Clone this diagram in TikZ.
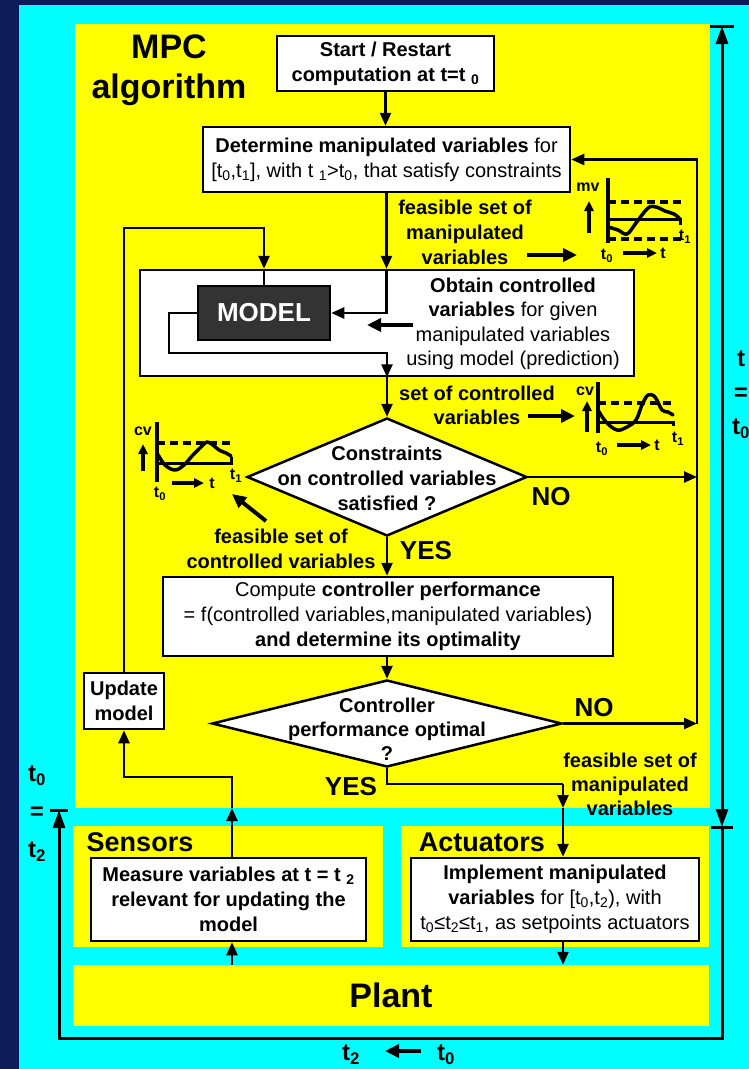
\documentclass[tikz,border=0pt]{standalone}
\usepackage{fontspec}
\setmainfont{Liberation Sans}
\usetikzlibrary{arrows.meta,shapes.geometric}

\definecolor{navy}{RGB}{12,28,90}
\definecolor{cyanbg}{RGB}{0,255,255}
\definecolor{yel}{RGB}{255,255,0}
\definecolor{modelgray}{RGB}{51,51,51}

\tikzset{
  box/.style={draw=black, fill=white, line width=2.5pt, inner sep=0pt, align=center,
    font=\fontsize{20}{25}\selectfont},
  boldbox/.style={box, font=\fontsize{20}{25}\selectfont\bfseries},
  decision/.style={draw=black, fill=white, line width=2.5pt, shape=diamond, inner sep=0pt},
  flow/.style={line width=2.5pt, -{Triangle[length=13pt,width=11pt]}},
  wire/.style={line width=2.5pt},
  lbl/.style={font=\fontsize{20}{25}\selectfont\bfseries, align=center, inner sep=0pt},
  answer/.style={font=\fontsize{26}{30}\selectfont\bfseries, inner sep=0pt},
  fatarrow/.style={line width=4pt, -{Triangle[length=14pt,width=13pt]}},
  timeline/.style={line width=3pt},
  timetip/.style={timeline, -{Triangle[length=18pt,width=12pt]}},
  tlabel/.style={font=\fontsize{24}{36}\selectfont\bfseries, align=center, inner sep=0pt},
  gaxis/.style={line width=4pt},
  glimit/.style={line width=3.5pt, dash pattern=on 8pt off 5pt},
  gbase/.style={line width=3pt},
  gcurve/.style={line width=3.5pt, line join=round, line cap=round},
  garrow/.style={line width=3.5pt, -{Triangle[length=10pt,width=9pt]}},
  glabel/.style={font=\fontsize{16}{18}\selectfont\bfseries, inner sep=0pt},
}

\begin{document}
\begin{tikzpicture}[x=1pt,y=-1pt]
\path[use as bounding box] (0,0) rectangle (749,1069);

% background panels
\fill[navy] (0,0) rectangle (749,1069);
\fill[cyanbg] (19,5) rectangle (749,1069);
\fill[yel] (75,24) rectangle (710,808);
\fill[yel] (73,826) rectangle (383,947);
\fill[yel] (401,826) rectangle (709,947);
\node[fill=yel, minimum width=636pt, minimum height=61pt, inner sep=0pt,
  font=\fontsize{34}{40}\selectfont\bfseries] (plant) at (391,995.5) {Plant};

% titles
\node[font=\fontsize{34}{40}\selectfont\bfseries, align=center, inner sep=0pt] (title) at (169,70) {MPC\\algorithm};
\node[font=\fontsize{27}{30}\selectfont\bfseries, inner sep=0pt] (sensors) at (140,842) {Sensors};
\node[font=\fontsize{27}{30}\selectfont\bfseries, inner sep=0pt] (actuators) at (482,842) {Actuators};

% algorithm steps
\node[boldbox, minimum width=217pt, minimum height=55pt] (start) at (385.5,63.5)
  {Start / Restart\\computation at t=t \textsubscript{0}};
\node[box, minimum width=367pt, minimum height=65pt] (determine) at (386.5,159.5)
  {\textbf{Determine manipulated variables} for\\{[}t\textsubscript{0},t\textsubscript{1}], with t \textsubscript{1}>t\textsubscript{0}, that satisfy constraints};
\node[box, minimum width=494pt, minimum height=106pt] (obtain) at (387,323) {};
\node[font=\fontsize{20}{24.5}\selectfont, align=center, inner sep=0pt] (obtaintext) at (513,324)
  {\textbf{Obtain controlled}\\\textbf{variables} for given\\manipulated variables\\using model (prediction)};
\node[draw=black, fill=modelgray, line width=2.5pt, minimum width=132pt, minimum height=54pt, inner sep=0pt,
  text=white, font=\fontsize{26}{30}\selectfont\bfseries] (model) at (264,313) {MODEL};

\node[decision, minimum width=280pt, minimum height=118pt] (cons) at (387,477) {};
\node[lbl] (constext) at (387,478) {Constraints\\on controlled variables\\satisfied ?};

\node[box, minimum width=450pt, minimum height=79pt] (compute) at (388,616.5)
  {Compute \textbf{controller performance}\\= f(controlled variables,manipulated variables)\\\textbf{and determine its optimality}};

\node[decision, minimum width=350pt, minimum height=87pt] (ctrl) at (387,723.5) {};
\node[lbl, font=\fontsize{20}{24}\selectfont\bfseries] (ctrltext) at (387,729) {Controller\\performance optimal\\?};

\node[boldbox, minimum width=80pt, minimum height=56pt] (update) at (124,701) {Update\\model};
\node[boldbox, minimum width=275pt, minimum height=83pt] (measure) at (228.5,899.5)
  {Measure variables at t = t \textsubscript{2}\\relevant for updating the\\model};
\node[box, minimum width=288pt, minimum height=83pt] (implement) at (555,899.5)
  {\textbf{Implement manipulated}\\\textbf{variables} for {[}t\textsubscript{0},t\textsubscript{2}), with\\t\textsubscript{0}≤t\textsubscript{2}≤t\textsubscript{1}, as setpoints actuators};

% helper coordinates
\coordinate (feedtop) at (0,228);
\coordinate (mloop) at (169,353);
\coordinate (rail) at (697,0);
\coordinate (edge) at (0,808);
\coordinate (ax) at (563,784);
\coordinate (sx) at (232,777);

% connectors
\draw[flow] (start.south) -- (start.south |- determine.north);
\draw[flow] (determine.south) -- (determine.south |- obtain.north);
\draw[flow] (determine.south |- obtain.north) |- (model.east);
\draw[flow] (update.north) |- (model.north |- feedtop) -- (model.north |- obtain.north);
\draw[wire] (model.north |- obtain.north) -- (model.north);
\draw[flow] (model.west) -| (mloop) -| (cons.north |- obtain.south);
\draw[flow] (cons.north |- obtain.south) -- (cons.north);
\draw[flow] (cons.south) -- (cons.south |- compute.north);
\draw[flow] (cons.east) -- (cons.east -| rail);
\draw[flow] (ctrl.north |- compute.south) -- (ctrl.north);
\draw[flow] (ctrl.east) -- (ctrl.east -| rail);
\draw[flow] (ctrl.east -| rail) |- (determine.east);
\draw[wire] (ctrl.south) |- (ax);
\draw[flow] (ax) -- (ax |- edge);
\draw[flow] (ax |- edge) -- (ax |- implement.north);
\draw[flow] (ax |- implement.south) -- (ax |- plant.north);
\draw[flow] (sx |- plant.north) -- (sx |- measure.south);
\draw[flow] (sx |- measure.north) -- (sx |- edge);
\draw[flow] (sx |- edge) -- (sx) -| (update.south);

% branch labels
\node[answer] (yes1) at (426,551) {YES};
\node[answer] (no1) at (551,497) {NO};
\node[answer] (no2) at (594,708) {NO};
\node[answer] (yes2) at (351,787) {YES};
\node[lbl] (feasmv) at (465,232) {feasible set of\\manipulated\\variables};
\node[lbl, font=\fontsize{20}{24}\selectfont\bfseries] (setcv) at (477,405) {set of controlled\\variables};
\node[lbl] (feascv) at (281,549) {feasible set of\\controlled variables};
\node[lbl, font=\fontsize{20}{24}\selectfont\bfseries] (feasmv2) at (630,784) {feasible set of\\manipulated\\variables};

% pointer arrows
\coordinate (pa1) at (527,255); \coordinate (pa2) at (577,255);
\draw[fatarrow] (pa1) -- (pa2);
\coordinate (pb1) at (528,416); \coordinate (pb2) at (575,416);
\draw[fatarrow] (pb1) -- (pb2);
\coordinate (pc1) at (413,325); \coordinate (pc2) at (367,325);
\draw[fatarrow] (pc1) -- (pc2);
\coordinate (pd1) at (266,521); \coordinate (pd2) at (232,494);
\draw[fatarrow] (pd1) -- (pd2);

% manipulated variable sketch
\draw[gaxis] (608,178) -- (608,243);
\draw[glimit] (608,202) -- (681,202);
\draw[glimit] (608,239) -- (681,239);
\draw[gbase] (608,219) -- (680,219) -- (680,225);
\draw[gcurve] plot[smooth, tension=0.6] coordinates {(608,227) (618,230) (627,234) (636,223) (648,208) (656,207) (665,211) (674,214) (680,219)};
\draw[garrow] (589,233) -- (589,201);
\node[glabel] (mvlbl) at (588,187) {mv};
\node[glabel] (mvt0) at (607,256) {t\textsubscript{0}};
\draw[garrow] (623,253) -- (657,253);
\node[glabel] (mvt) at (663,253) {t};
\node[glabel] (mvt1) at (685,237) {t\textsubscript{1}};

% controlled variable sketch (prediction)
\draw[gaxis] (598,382) -- (598,433);
\draw[glimit] (598,403) -- (674,403);
\draw[gbase] (598,422) -- (673,422) -- (673,426);
\draw[gcurve] plot[smooth, tension=0.6] coordinates {(598,410) (606,422) (617,430) (627,427) (636,420) (642,405) (648,395) (655,397) (662,410) (668,412) (673,415)};
\draw[garrow] (587,432) -- (587,401);
\node[glabel] (cvlbl) at (585,391) {cv};
\node[glabel] (cvt0) at (602,449) {t\textsubscript{0}};
\draw[garrow] (617,445) -- (651,445);
\node[glabel] (cvt) at (657,445) {t};
\node[glabel] (cvt1) at (678,439) {t\textsubscript{1}};

% controlled variable sketch (feasible)
\draw[gaxis] (157,422) -- (157,482);
\draw[glimit] (157,443) -- (232,443);
\draw[gbase] (157,463) -- (231,463) -- (231,457);
\draw[gcurve] plot[smooth, tension=0.6] coordinates {(157,453) (165,465) (175,470) (184,465) (192,456) (200,448) (207,442) (213,445) (219,450) (226,453) (231,456)};
\draw[garrow] (143,471) -- (143,444);
\node[glabel] (cv2lbl) at (143,431) {cv};
\node[glabel] (cv2t0) at (160,494) {t\textsubscript{0}};
\draw[garrow] (172,483) -- (204,483);
\node[glabel] (cv2t) at (212,483) {t};
\node[glabel] (cv2t1) at (236,476) {t\textsubscript{1}};

% time axis
\coordinate (rtop) at (722,26);
\coordinate (rmid) at (722,430);
\coordinate (rbot) at (722,827);
\coordinate (lbot) at (59,1038);
\coordinate (ltop) at (59,810);
\draw[timetip] (rmid) -- (rtop);
\draw[timetip] (rmid) -- (rbot);
\draw[timeline] ([xshift=-12pt]rtop) -- ([xshift=12pt]rtop);
\draw[timeline] ([xshift=-11pt]rbot) -- ([xshift=11pt]rbot);
\draw[timetip] (rbot) |- (lbot) -- (ltop);
\draw[timeline] ([xshift=-9pt]ltop) -- ([xshift=9pt]ltop);
\node[tlabel, font=\fontsize{24}{34}\selectfont\bfseries] (tright) at (741,395) {t\\=\\t\textsubscript{0}};
\node[tlabel, font=\fontsize{24}{38}\selectfont\bfseries] (tleft) at (37,814) {t\textsubscript{0}\\=\\t\textsubscript{2}};
\node[tlabel] (bt2) at (351,1055) {t\textsubscript{2}};
\node[tlabel] (bt0) at (446,1055) {t\textsubscript{0}};
\coordinate (bta) at (421,1051); \coordinate (btb) at (385,1051);
\draw[fatarrow] (bta) -- (btb);
\end{tikzpicture}
\end{document}
